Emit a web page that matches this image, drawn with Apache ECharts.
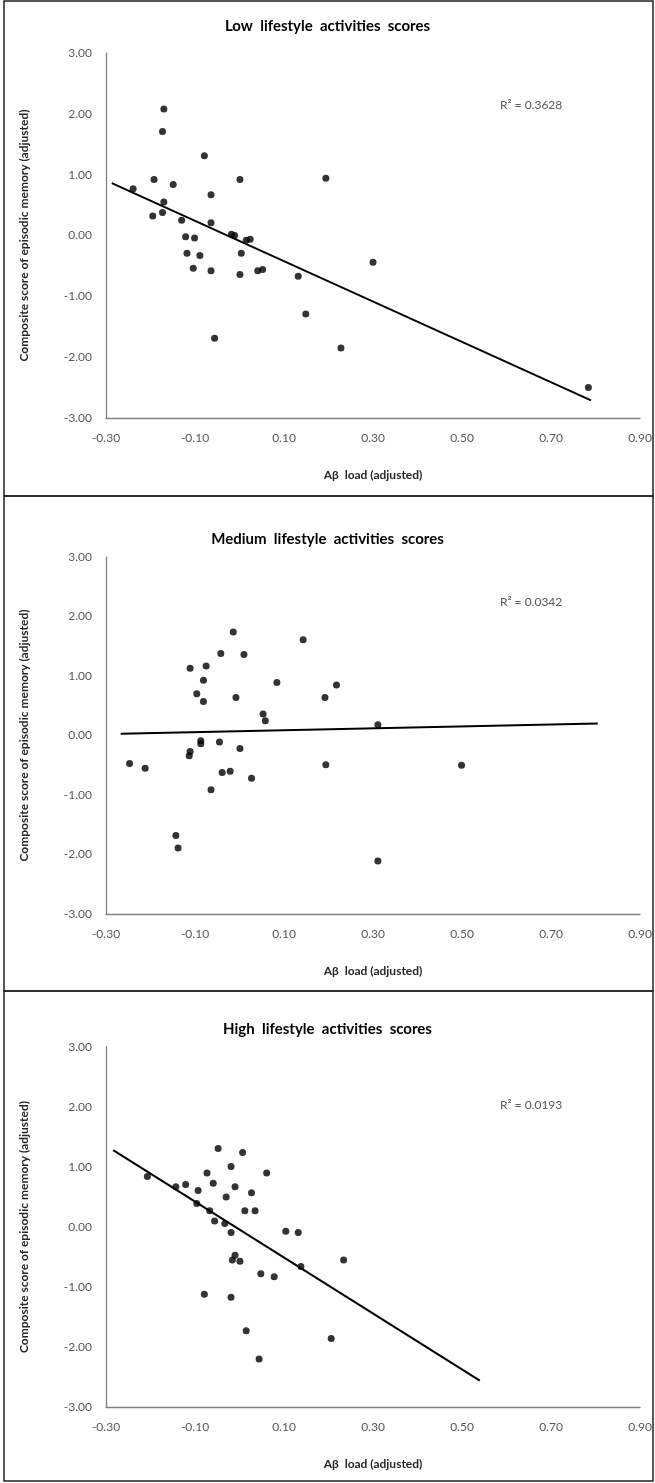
<!DOCTYPE html>
<html>
<head>
<meta charset="utf-8">
<script src="https://cdn.jsdelivr.net/npm/echarts@6/dist/echarts.min.js"></script>
<style>
html,body{margin:0;padding:0;background:#fff;}
#c{width:655px;height:1483px;}
</style>
</head>
<body>
<div id="c"></div>
<script>
// ---------- data ----------
const panelTitles = ["Low  lifestyle  activities  scores", "Medium  lifestyle  activities  scores", "High  lifestyle  activities  scores"];
const rSquared = ["R\u00B2 = 0.3628", "R\u00B2 = 0.0342", "R\u00B2 = 0.0193"];
const xAxisTitle = "A\u03B2  load (adjusted)";
const yAxisTitle = "Composite score of episodic memory (adjusted)";
const xTicks = [-0.30, -0.10, 0.10, 0.30, 0.50, 0.70, 0.90];
const yTicks = [-3.00, -2.00, -1.00, 0.00, 1.00, 2.00, 3.00];

const lowX = [-0.170,-0.173,-0.079,-0.192,-0.149,0.001,-0.239,-0.064,-0.170,-0.195,-0.173,-0.130,-0.064,-0.018,-0.011,0.015,0.024,-0.121,-0.101,-0.118,-0.089,0.004,-0.104,-0.064,0.001,0.041,0.052,0.132,0.149,-0.056,0.194,0.300,0.228,0.784];
const lowY = [2.08,1.71,1.31,0.92,0.84,0.92,0.77,0.67,0.55,0.32,0.38,0.25,0.21,0.02,0.00,-0.08,-0.06,-0.02,-0.04,-0.29,-0.33,-0.29,-0.54,-0.58,-0.64,-0.58,-0.56,-0.67,-1.29,-1.69,0.94,-0.44,-1.85,-2.50];
const lowTrendX = [-0.287, 0.790];
const lowTrendY = [0.86, -2.71];

const medX = [-0.014,0.143,-0.042,0.010,-0.111,-0.075,-0.081,0.084,0.218,-0.096,-0.081,-0.008,0.192,0.053,0.058,-0.087,-0.087,-0.045,0.001,-0.111,-0.113,-0.247,-0.212,-0.039,-0.021,0.027,0.194,-0.064,-0.143,-0.138,0.311,0.499,0.311];
const medY = [1.74,1.61,1.38,1.36,1.13,1.17,0.93,0.89,0.85,0.70,0.57,0.64,0.64,0.36,0.25,-0.09,-0.14,-0.11,-0.22,-0.27,-0.34,-0.47,-0.55,-0.62,-0.60,-0.72,-0.49,-0.91,-1.68,-1.89,0.18,-0.50,-2.11];
const medTrendX = [-0.267, 0.805];
const medTrendY = [0.03, 0.20];

const highX = [-0.048,0.007,-0.019,0.061,-0.073,-0.207,-0.059,-0.010,-0.143,-0.121,-0.093,0.027,-0.030,-0.096,0.012,0.035,-0.067,-0.056,-0.033,-0.019,0.104,0.132,-0.010,-0.016,0.001,0.138,0.234,0.048,0.078,-0.079,-0.019,0.015,0.206,0.044];
const highY = [1.31,1.24,1.01,0.90,0.90,0.84,0.73,0.67,0.67,0.71,0.61,0.57,0.50,0.39,0.27,0.27,0.27,0.10,0.06,-0.09,-0.07,-0.09,-0.47,-0.55,-0.57,-0.66,-0.55,-0.78,-0.83,-1.12,-1.17,-1.73,-1.86,-2.20];
const highTrendX = [-0.284, 0.540];
const highTrendY = [1.28, -2.56];

// ---------- layout ----------
const font = "Lato, 'Open Sans', 'Noto Sans', sans-serif";
const panels = [
  {top: 53, height: 365, titleY: 24, r2Y: 107, xs: lowX, ys: lowY, tx: lowTrendX, ty: lowTrendY},
  {top: 557, height: 357, titleY: 537, r2Y: 604, xs: medX, ys: medY, tx: medTrendX, ty: medTrendY},
  {top: 1047, height: 360, titleY: 1027, r2Y: 1107, xs: highX, ys: highY, tx: highTrendX, ty: highTrendY}
];
const zip = (a, b) => a.map((v, i) => [v, b[i]]);

const grid = [], xAxis = [], yAxis = [], series = [], title = [], graphic = [];
panels.forEach((p, i) => {
  grid.push({left: 106, right: 15, top: p.top, height: p.height, containLabel: false});
  xAxis.push({
    type: 'value', gridIndex: i,
    min: xTicks[0], max: xTicks[xTicks.length - 1], interval: 0.2,
    axisLine: {show: true, onZero: false, lineStyle: {color: '#808080', width: 1.3}},
    axisTick: {show: false}, splitLine: {show: false},
    axisLabel: {color: '#595959', fontSize: 12, fontFamily: font, margin: 14, formatter: v => v.toFixed(2)},
    name: xAxisTitle, nameLocation: 'middle', nameGap: 51,
    nameTextStyle: {color: '#262626', fontSize: 12, fontWeight: 'bold', fontFamily: font}
  });
  yAxis.push({
    type: 'value', gridIndex: i,
    min: yTicks[0], max: yTicks[yTicks.length - 1], interval: 1,
    axisLine: {show: true, onZero: false, lineStyle: {color: '#808080', width: 1.3}},
    axisTick: {show: false}, splitLine: {show: false},
    axisLabel: {color: '#595959', fontSize: 12, fontFamily: font, margin: 14, formatter: v => v.toFixed(2)},
    name: yAxisTitle, nameLocation: 'middle', nameGap: 76, nameRotate: 90,
    nameTextStyle: {color: '#262626', fontSize: 12, fontWeight: 'bold', fontFamily: font}
  });
  series.push({
    type: 'scatter', xAxisIndex: i, yAxisIndex: i,
    data: zip(p.xs, p.ys), symbolSize: 7,
    itemStyle: {color: '#000'}, silent: true, z: 3
  });
  series.push({
    type: 'line', xAxisIndex: i, yAxisIndex: i,
    data: zip(p.tx, p.ty), symbol: 'none',
    lineStyle: {color: '#000', width: 2}, silent: true, z: 2
  });
  title.push({
    text: panelTitles[i], left: 'center', top: p.titleY - 10,
    textStyle: {color: '#000', fontSize: 15, fontWeight: 'bold', fontFamily: font}
  });
  graphic.push({
    type: 'text', left: 500, top: p.r2Y - 8,
    style: {text: rSquared[i], fill: '#595959', font: '12px ' + font}
  });
});

// panel borders
const bx = 4, bw = 649;
[[1, 496], [496, 991], [991, 1481]].forEach(([y0, y1]) => {
  graphic.push({
    type: 'rect', shape: {x: bx, y: y0, width: bw, height: y1 - y0},
    style: {fill: 'none', stroke: '#222', lineWidth: 1.5}, silent: true, z: -1
  });
});

const chart = echarts.init(document.getElementById('c'), null, {renderer: 'canvas'});
chart.setOption({
  animation: false,
  backgroundColor: '#fff',
  title, grid, xAxis, yAxis, series, graphic
});
</script>
</body>
</html>
